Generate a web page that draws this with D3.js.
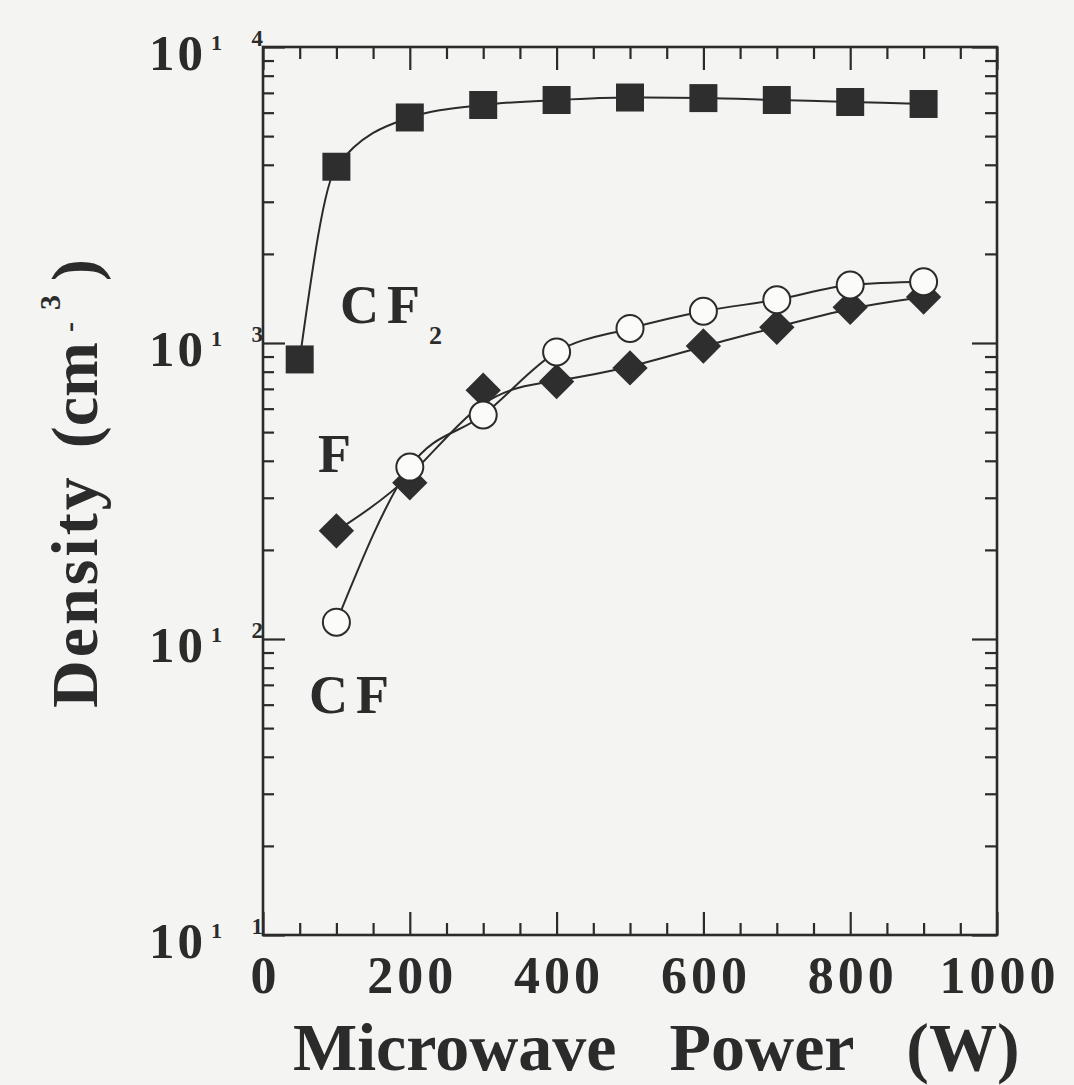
<!DOCTYPE html>
<html>
<head>
<meta charset="utf-8">
<script src="https://cdn.jsdelivr.net/npm/d3@7"></script>
<style>
  html, body { margin: 0; padding: 0; background: #f4f4f2; }
  svg { display: block; }
  text { font-family: "Liberation Serif", "Times New Roman", serif; font-weight: bold; fill: #2b2b2b; }
</style>
</head>
<body>
<svg id="chart" width="1074" height="1085"></svg>
<script>
// ---- data ----
const powerCF2 = [50, 100, 200, 300, 400, 500, 600, 700, 800, 900];
const densityCF2 = [8.8e12, 3.94e13, 5.78e13, 6.37e13, 6.62e13, 6.75e13, 6.72e13, 6.62e13, 6.52e13, 6.42e13];
const powerCF = [100, 200, 300, 400, 500, 600, 700, 800, 900];
const densityCF = [1.14e12, 3.81e12, 5.71e12, 9.33e12, 1.12e13, 1.28e13, 1.40e13, 1.57e13, 1.61e13];
const powerF = [100, 200, 300, 400, 500, 600, 700, 800, 900];
const densityF = [2.32e12, 3.37e12, 6.93e12, 7.41e12, 8.24e12, 9.77e12, 1.13e13, 1.32e13, 1.43e13];
const xMajorTicks = [0, 200, 400, 600, 800, 1000];
const xTickLabels = ["0", "200", "400", "600", "800", "1000"];
const xMinorTicks = [50, 100, 150, 250, 300, 350, 450, 500, 550, 650, 700, 750, 850, 900, 950];
const yExponents = [11, 12, 13, 14];
const seriesLabels = { cf2: "CF", cf2Sub: "2", f: "F", cf: "CF" };

// ---- layout ----
const svg = d3.select("#chart");
const L = 263, R = 997, T = 47, B = 935;
const x = d3.scaleLinear().domain([0, 1000]).range([L, R]);
const y = d3.scaleLog().domain([1e11, 1e14]).range([B, T]);
const ink = "#2b2b2b";

const yMajor = yExponents.map(e => Math.pow(10, e));
const yMinor = [];
yExponents.slice(0, -1).forEach(e => { for (let k = 2; k <= 9; k++) yMinor.push(k * Math.pow(10, e)); });

function styleAxis(g) {
  g.select(".domain").remove();
  g.selectAll(".tick line").attr("stroke", ink).attr("stroke-width", 2.2);
}

// bottom axis (ticks inward)
svg.append("g").attr("transform", `translate(0,${B})`)
  .call(d3.axisBottom(x).tickValues(xMinorTicks).tickSize(-12).tickFormat(""))
  .call(styleAxis);
const bottomMajor = svg.append("g").attr("transform", `translate(0,${B})`)
  .call(d3.axisBottom(x).tickValues(xMajorTicks).tickSize(-23).tickPadding(21)
    .tickFormat((d, i) => xTickLabels[i]))
  .call(styleAxis);
bottomMajor.selectAll(".tick text")
  .attr("fill", ink).attr("font-size", 52).attr("letter-spacing", 4).attr("dx", 2)
  .style("font-family", "'Liberation Serif', serif").style("font-weight", "bold");

// top axis
svg.append("g").attr("transform", `translate(0,${T})`)
  .call(d3.axisTop(x).tickValues(xMinorTicks).tickSize(-12).tickFormat(""))
  .call(styleAxis);
svg.append("g").attr("transform", `translate(0,${T})`)
  .call(d3.axisTop(x).tickValues(xMajorTicks).tickSize(-23).tickFormat(""))
  .call(styleAxis);

// left axis
svg.append("g").attr("transform", `translate(${L},0)`)
  .call(d3.axisLeft(y).tickValues(yMinor).tickSize(-11).tickFormat(""))
  .call(styleAxis);
svg.append("g").attr("transform", `translate(${L},0)`)
  .call(d3.axisLeft(y).tickValues(yMajor).tickSize(-22).tickFormat(""))
  .call(styleAxis);
// right axis
svg.append("g").attr("transform", `translate(${R},0)`)
  .call(d3.axisRight(y).tickValues(yMinor).tickSize(-12).tickFormat(""))
  .call(styleAxis);
svg.append("g").attr("transform", `translate(${R},0)`)
  .call(d3.axisRight(y).tickValues(yMajor).tickSize(-25).tickFormat(""))
  .call(styleAxis);

// frame
svg.append("rect").attr("x", L).attr("y", T).attr("width", R - L).attr("height", B - T)
  .attr("fill", "none").attr("stroke", ink).attr("stroke-width", 2.6);

// y tick labels 10^n drawn in the scanned style
const yl = svg.append("g");
yExponents.forEach(e => {
  const ty = y(Math.pow(10, e));
  yl.append("text").attr("x", 206).attr("y", ty + 23).attr("text-anchor", "end")
    .attr("font-size", 51).attr("letter-spacing", 3).text("10");
  yl.append("text").attr("x", 211).attr("y", ty + 3).attr("font-size", 22).text("1");
  yl.append("text").attr("x", 263).attr("y", ty - 1).attr("text-anchor", "end")
    .attr("font-size", 23).text(String(e).slice(-1));
});

// curves
const lineGen = (xs, curve) => d3.line()
  .x((d, i) => x(xs[i])).y(d => y(d)).curve(curve);
svg.append("path").attr("d", lineGen(powerCF2, d3.curveMonotoneX)(densityCF2))
  .attr("fill", "none").attr("stroke", ink).attr("stroke-width", 2);
svg.append("path").attr("d", lineGen(powerCF, d3.curveMonotoneX)(densityCF))
  .attr("fill", "none").attr("stroke", ink).attr("stroke-width", 2);
svg.append("path").attr("d", lineGen(powerF, d3.curveBasis)(densityF))
  .attr("fill", "none").attr("stroke", ink).attr("stroke-width", 2);

// markers
const sq = d3.symbol().type(d3.symbolSquare).size(28 * 28);
svg.append("g").selectAll("path").data(densityCF2).join("path")
  .attr("d", sq).attr("transform", (d, i) => `translate(${x(powerCF2[i])},${y(d)})`)
  .attr("fill", "#2e2e2e");
const dm = d3.symbol().type(d3.symbolSquare).size(25 * 25);
svg.append("g").selectAll("path").data(densityF).join("path")
  .attr("d", dm).attr("transform", (d, i) => `translate(${x(powerF[i])},${y(d)}) rotate(45)`)
  .attr("fill", "#2e2e2e");
svg.append("g").selectAll("circle").data(densityCF).join("circle")
  .attr("cx", (d, i) => x(powerCF[i])).attr("cy", d => y(d)).attr("r", 13.5)
  .attr("fill", "#fbfbfa").attr("stroke", ink).attr("stroke-width", 2);

// series labels
const cf2Label = svg.append("text").attr("x", 340).attr("y", 323).attr("font-size", 54);
cf2Label.append("tspan").attr("letter-spacing", 8).text(seriesLabels.cf2);
cf2Label.append("tspan").attr("font-size", 26).attr("dy", 21).attr("dx", 1).text(seriesLabels.cf2Sub);
svg.append("text").attr("x", 318).attr("y", 472).attr("font-size", 54).text(seriesLabels.f);
svg.append("text").attr("x", 309).attr("y", 713).attr("font-size", 54).attr("letter-spacing", 8).text(seriesLabels.cf);

// axis titles
svg.append("text").attr("x", 293).attr("y", 1070).attr("font-size", 68).attr("word-spacing", 36)
  .text("Microwave Power (W)");
const yt = svg.append("text").attr("transform", "translate(97,708) rotate(-90)")
  .attr("font-size", 66);
yt.append("tspan").attr("letter-spacing", 3).text("Density");
yt.append("tspan").attr("dx", 26).text("(cm");
yt.append("tspan").attr("font-size", 30).attr("dx", 10).attr("dy", -18).text("-");
yt.append("tspan").attr("font-size", 30).attr("dx", 12).attr("dy", -19).text("3");
yt.append("tspan").attr("dx", 14).attr("dy", 37).text(")");
</script>
</body>
</html>
